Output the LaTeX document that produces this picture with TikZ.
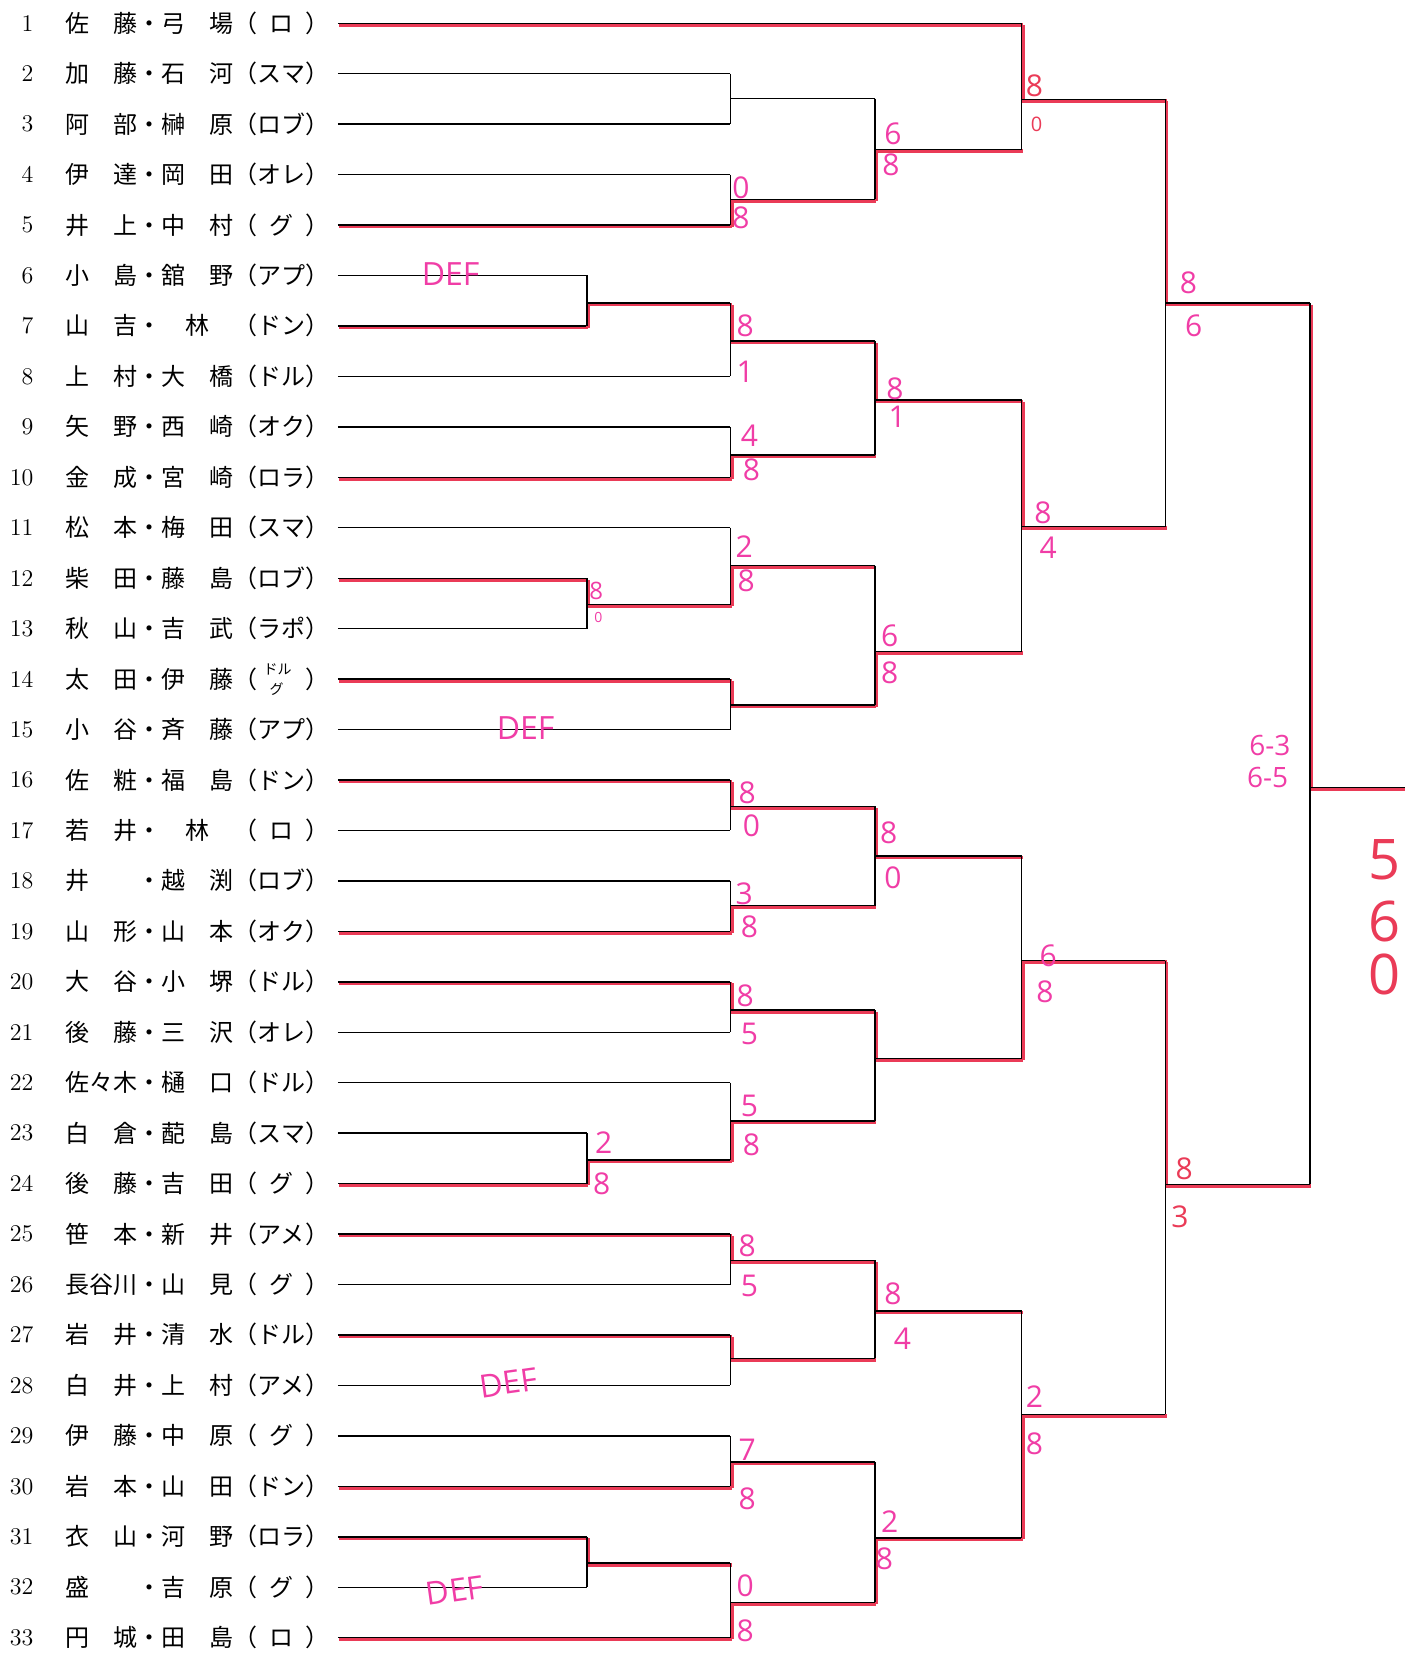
\documentclass[tikz,border=0pt]{standalone}
\usepackage{fontspec}
\newfontfamily\jp{Noto Sans CJK JP}
\newfontfamily\hand{Open Sans}
\usetikzlibrary{calc}
\definecolor{pen}{HTML}{EA3B57}
\definecolor{ink}{HTML}{F03DA6}
\tikzset{pair/.style={anchor=west,inner sep=0pt,text height=10.5pt,text depth=1.5pt,font=\jp\fontsize{12}{12}\selectfont},seed/.style={anchor=east,inner sep=0pt,font=\fontsize{12}{12}\selectfont},bline/.style={line width=0.7pt,black},rline/.style={line width=1.8pt,pen,transform canvas={xshift=0.7pt,yshift=-0.8pt}},score/.style={inner sep=0pt,text=ink,font=\hand\fontsize{15}{15}\selectfont},note/.style={inner sep=0pt,text=ink,font=\hand\fontsize{16}{16}\selectfont}}

\begin{document}
\begin{tikzpicture}[x=0.5278pt,y=-0.5278pt]
\useasboundingbox (0,0) rectangle (1331,1568);
\foreach \cl/\x in {A/556,B/692,C/829,D/968,E/1104,F/1241,G/1331}{\coordinate (col\cl) at (\x,0);}
\foreach \i/\nm/\tm/\cl [evaluate=\i as \yy using 22+(\i-1)*47.8] in {1/佐　藤・弓　場/ロ/D,2/加　藤・石　河/スマ/B,3/阿　部・榊　原/ロブ/B,4/伊　達・岡　田/オレ/B,5/井　上・中　村/グ/B,6/小　島・舘　野/アプ/A,7/山　吉・　林　/ドン/A,8/上　村・大　橋/ドル/B,9/矢　野・西　崎/オク/B,10/金　成・宮　崎/ロラ/B,11/松　本・梅　田/スマ/B,12/柴　田・藤　島/ロブ/A,13/秋　山・吉　武/ラポ/A,14/太　田・伊　藤//B,15/小　谷・斉　藤/アプ/B,16/佐　粧・福　島/ドン/B,17/若　井・　林　/ロ/B,18/井　　・越　渕/ロブ/B,19/山　形・山　本/オク/B,20/大　谷・小　堺/ドル/B,21/後　藤・三　沢/オレ/B,22/佐々木・樋　口/ドル/B,23/白　倉・蓜　島/スマ/A,24/後　藤・吉　田/グ/A,25/笹　本・新　井/アメ/B,26/長谷川・山　見/グ/B,27/岩　井・清　水/ドル/B,28/白　井・上　村/アメ/B,29/伊　藤・中　原/グ/B,30/岩　本・山　田/ドン/B,31/衣　山・河　野/ロラ/A,32/盛　　・吉　原/グ/A,33/円　城・田　島/ロ/B}{
\node[seed] (s\i) at (32,\yy) {\i};
\node[pair] (p\i) at (61.6,\yy) {\nm（\makebox[2em]{\tm}）};
\coordinate (r\i) at (320,\yy);
\coordinate (e\i) at (r\i -| col\cl);}
\node[pair,anchor=center,font=\jp\fontsize{7}{7}\selectfont,text height=5.5pt,text depth=1pt] (t14a) at (263,635) {ドル};
\node[pair,anchor=center,font=\jp\fontsize{7}{7}\selectfont,text height=5.5pt,text depth=1pt] (t14b) at (262,654) {グ};
\foreach \i in {1,5,7,10,12,14,16,19,20,24,25,27,30,31,33}{\draw[rline] (r\i) -- (e\i);}
\foreach \i in {1,...,33}{\draw[bline] (r\i) -- (e\i);}
\foreach \mk/\cl/\tp/\bt/\oy/\nx/\wn in {mA1/A/r6/r7/287/B/b,mA2/A/r12/r13/573/B/t,mA3/A/r23/r24/1099/B/b,mA4/A/r31/r32/1481/B/t,mB1/B/r2/r3/93.5/C/n,mB2/B/r4/r5/189/C/b,mB3/B/mA1/r8/323/C/t,mB4/B/r9/r10/431/C/b,mB5/B/r11/mA2/536/C/b,mB6/B/r14/r15/668/C/t,mB7/B/r16/r17/764/C/t,mB8/B/r18/r19/858/C/b,mB9/B/r20/r21/957/C/t,mB10/B/r22/mA3/1062/C/b,mB11/B/r25/r26/1194/C/t,mB12/B/r27/r28/1287/C/t,mB13/B/r29/r30/1385/C/b,mB14/B/mA4/r33/1518/C/b,mC1/C/mB1/mB2/141.5/D/b,mC2/C/mB3/mB4/379/D/t,mC3/C/mB5/mB6/617/D/b,mC4/C/mB7/mB8/811/D/t,mC5/C/mB9/mB10/1003/D/t,mC6/C/mB11/mB12/1242/D/t,mC7/C/mB13/mB14/1457/D/b,mD1/D/r1/mC1/94/E/t,mD2/D/mC2/mC3/499/E/t,mD3/D/mC4/mC5/910/E/b,mD4/D/mC6/mC7/1340/E/b,mE1/E/mD1/mD2/287/F/t,mE2/E/mD3/mD4/1122/F/t,mF/F/mE1/mE2/746/G/t}{
\coordinate (\mk) at (col\cl |- 0,\oy);
\if\wn t\draw[rline] (\tp -| col\cl) -- (\mk) -- (\mk -| col\nx);\fi
\if\wn b\draw[rline] (\bt -| col\cl) -- (\mk) -- (\mk -| col\nx);\fi
\draw[bline] (\tp -| col\cl) -- (\bt -| col\cl) (\mk) -- (\mk -| col\nx);}
\foreach \x/\y/\t [count=\k] in {702/178/0,702/206/8,846/127/6,844/156/8,706/309/8,706/352/1,710/413/4,712/445/8,848/368/8,850/395/1,705/518/2,707/550/8,843/602/6,843/637/8,988/486/8,993/519/4,1126/268/8,1131/309/6,708/751/8,712/782/0,705/847/3,710/878/8,842/789/8,846/832/0,706/943/8,710/980/5,572/1083/2,570/1122/8,710/1048/5,712/1085/8,993/906/6,990/940/8,708/1180/8,710/1218/5,846/1226/8,855/1268/4,708/1374/7,708/1420/8,706/1502/0,706/1545/8,843/1442/2,838/1477/8,980/1323/2,980/1368/8}{\node[score] (g\k) at (\x,\y) {\t};}
\node[score,font=\hand\fontsize{12}{12}\selectfont] (a8) at (565,560) {8};
\node[score,font=\hand\fontsize{7}{7}\selectfont] (a0) at (567,585) {0};
\foreach \x/\y/\t [count=\k] in {980/81/8,1122/1107/8,1118/1153/3}{\node[score,text=pen] (h\k) at (\x,\y) {\t};}
\node[score,text=pen,font=\hand\fontsize{10}{10}\selectfont] (h0) at (982,118) {0};
\node[score,font=\hand\fontsize{14}{14}\selectfont] (f1) at (1203,706) {6-3};
\node[score,font=\hand\fontsize{14}{14}\selectfont] (f2) at (1201,737) {6-5};
\foreach \t/\y [count=\k] in {5/815,6/873,0/923}{\node[score,text=pen,font=\hand\fontsize{28}{28}\selectfont] (w\k) at (1312,\y) {\t};}
\node[note] (d6) at (427,260) {DEF};
\node[note] (d15) at (498,690) {DEF};
\node[note,rotate=8] (d28) at (482,1310) {DEF};
\node[note,rotate=8] (d32) at (431,1507) {DEF};
\end{tikzpicture}
\end{document}
